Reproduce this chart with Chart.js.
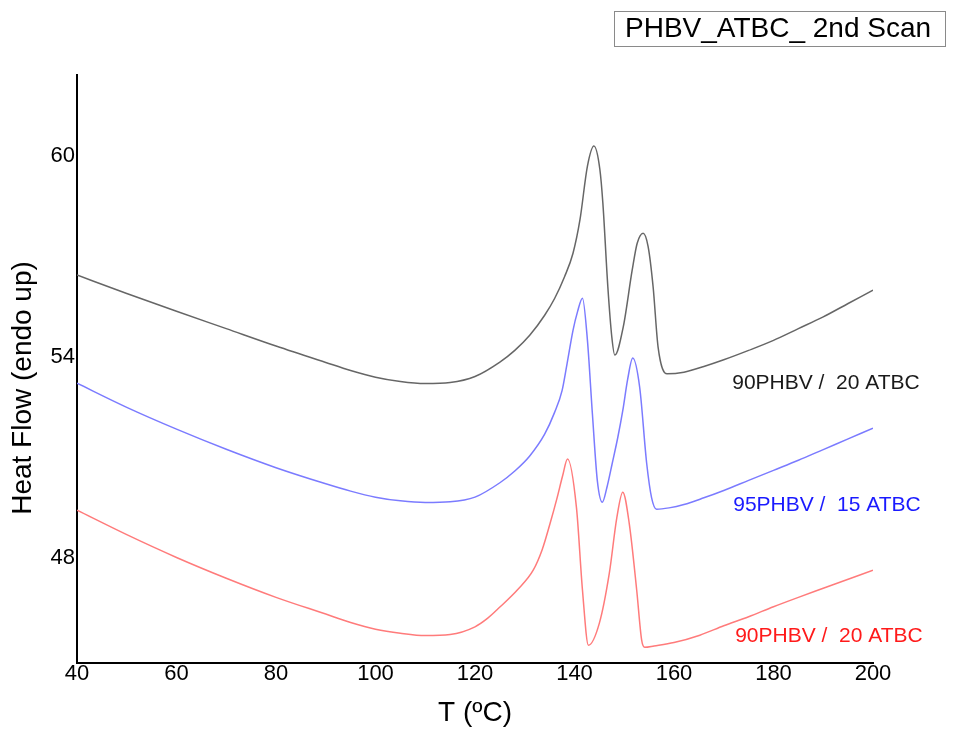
<!DOCTYPE html>
<html>
<head>
<meta charset="utf-8">
<script src="https://cdn.jsdelivr.net/npm/chart.js@4.4.1/dist/chart.umd.min.js"></script>
<style>
    html, body { margin: 0; padding: 0; background: #fff; }
</style>
</head>
<body>
<canvas id="dscChart" width="958" height="731"></canvas>
<script>
// Temperature (ºC) and heat flow readings for each curve
const blackT = [40, 50, 60, 70, 80, 90, 95, 100, 105, 110, 115, 120, 125, 128, 131, 134, 136, 138, 139.7, 141.1, 142.6, 143.9, 145.1, 145.7, 146.7, 147.5, 148.1, 149.8, 151.6, 152.6, 153.8, 154.8, 155.8, 156.8, 158.6, 162, 166, 170, 175, 180, 185, 190, 195, 200];
const blackHF = [56.45, 55.9, 55.37, 54.85, 54.33, 53.84, 53.6, 53.4, 53.27, 53.21, 53.24, 53.42, 53.85, 54.2, 54.65, 55.25, 55.75, 56.4, 57.1, 58.1, 59.7, 60.3, 59.6, 58.6, 56.1, 54.6, 54.06, 54.9, 56.6, 57.4, 57.7, 57.3, 56.1, 54.3, 53.5, 53.55, 53.72, 53.92, 54.2, 54.5, 54.85, 55.2, 55.6, 56.0];

const blueT = [40, 50, 60, 70, 80, 90, 95, 100, 105, 110, 115, 120, 125, 128, 131, 134, 136, 137.5, 138.5, 139.7, 140.6, 141.6, 142.6, 143.6, 144.6, 145.6, 146.5, 147.6, 148.7, 149.7, 150.7, 151.7, 153.1, 154.5, 155.5, 156.5, 159, 162, 166, 170, 175, 180, 185, 190, 195, 200];
const blueHF = [53.22, 52.5, 51.85, 51.25, 50.7, 50.22, 50.0, 49.82, 49.71, 49.66, 49.68, 49.82, 50.25, 50.6, 51.05, 51.7, 52.35, 53.0, 53.8, 54.8, 55.35, 55.76, 54.5, 52.3, 50.3, 49.67, 50.1, 50.84, 51.6, 52.4, 53.35, 53.97, 53.1, 50.84, 49.8, 49.46, 49.5, 49.6, 49.8, 50.02, 50.32, 50.62, 50.92, 51.24, 51.56, 51.88];

const redT = [40, 50, 60, 70, 80, 90, 95, 100, 105, 110, 115, 120, 122.5, 125, 128.5, 131.7, 133.5, 135.1, 136.5, 137.6, 138.6, 140.4, 141.6, 142.8, 145, 147, 148.5, 149.7, 151, 152.5, 153.5, 154.1, 156, 160, 165.2, 170, 175, 180, 185, 190, 195, 200];
const redHF = [49.43, 48.7, 48.02, 47.4, 46.83, 46.33, 46.08, 45.88, 45.76, 45.69, 45.72, 45.95, 46.2, 46.54, 47.05, 47.64, 48.25, 49.04, 49.8, 50.45, 50.96, 49.5, 47.05, 45.4, 46.06, 47.55, 49.2, 49.97, 49.04, 47.05, 45.55, 45.34, 45.38, 45.48, 45.7, 45.98, 46.25, 46.55, 46.83, 47.1, 47.37, 47.64];

const curveNames = ['90PHBV /  20 ATBC', '95PHBV /  15 ATBC', '90PHBV /  20 ATBC'];
const yTicks = [48, 54, 60];

const toPoints = (xs, ys) => xs.map((x, i) => ({ x: x, y: ys[i] }));

Chart.defaults.font.family = "'Liberation Sans', Arial, sans-serif";
Chart.defaults.color = '#000';

// Title box, curve labels and y axis title
const decorations = {
    id: 'decorations',
    afterDraw(chart) {
        const ctx = chart.ctx;
        const xs = chart.scales.x;
        const ys = chart.scales.y;
        ctx.save();

        ctx.strokeStyle = '#8a8a8a';
        ctx.lineWidth = 1;
        ctx.strokeRect(614.5, 11.5, 331, 35);
        ctx.fillStyle = '#000';
        ctx.font = "28px 'Liberation Sans', Arial, sans-serif";
        ctx.textAlign = 'left';
        ctx.textBaseline = 'middle';
        ctx.fillText('PHBV_ATBC_ 2nd Scan', 625, 29);

        const labelColors = ['#1a1a1a', '#1a1aff', '#ff1a1a'];
        const labelAt = [[171.7, 53.21], [171.9, 49.58], [172.3, 45.67]];
        ctx.font = "21px 'Liberation Sans', Arial, sans-serif";
        curveNames.forEach((name, i) => {
            ctx.fillStyle = labelColors[i];
            ctx.fillText(name, xs.getPixelForValue(labelAt[i][0]), ys.getPixelForValue(labelAt[i][1]));
        });

        ctx.translate(23, 388);
        ctx.rotate(-Math.PI / 2);
        ctx.textAlign = 'center';
        ctx.fillStyle = '#000';
        ctx.font = "28px 'Liberation Sans', Arial, sans-serif";
        ctx.fillText('Heat Flow (endo up)', 0, 0);
        ctx.restore();
    }
};

const ctx = document.getElementById('dscChart').getContext('2d');
new Chart(ctx, {
    type: 'line',
    data: {
        datasets: [
            { label: curveNames[0], data: toPoints(blackT, blackHF), borderColor: '#666666' },
            { label: curveNames[1], data: toPoints(blueT, blueHF), borderColor: '#7b7bff' },
            { label: curveNames[2], data: toPoints(redT, redHF), borderColor: '#ff7b7b' }
        ]
    },
    options: {
        responsive: false,
        animation: false,
        layout: { padding: { left: 0, right: 85, top: 75, bottom: 0 } },
        elements: {
            point: { radius: 0 },
            line: { borderWidth: 1.5, tension: 0.4, cubicInterpolationMode: 'monotone', fill: false }
        },
        plugins: {
            legend: { display: false },
            tooltip: { enabled: false }
        },
        scales: {
            x: {
                type: 'linear',
                min: 40,
                max: 200,
                ticks: { stepSize: 20, font: { size: 22 }, color: '#000', padding: -2 },
                grid: { display: false, drawTicks: false },
                border: { display: true, color: '#000', width: 2 },
                title: { display: true, text: 'T (ºC)', font: { size: 28 }, color: '#000', padding: { top: 0, bottom: 1 } },
                afterFit: s => { s.height = 68; }
            },
            y: {
                type: 'linear',
                min: 44.87,
                max: 62.42,
                afterBuildTicks: s => { s.ticks = yTicks.map(v => ({ value: v })); },
                ticks: { font: { size: 22 }, color: '#000', padding: 2 },
                grid: { display: false, drawTicks: false },
                border: { display: true, color: '#000', width: 2 },
                afterFit: s => { s.width = 77; }
            }
        }
    },
    plugins: [decorations]
});
</script>
</body>
</html>
